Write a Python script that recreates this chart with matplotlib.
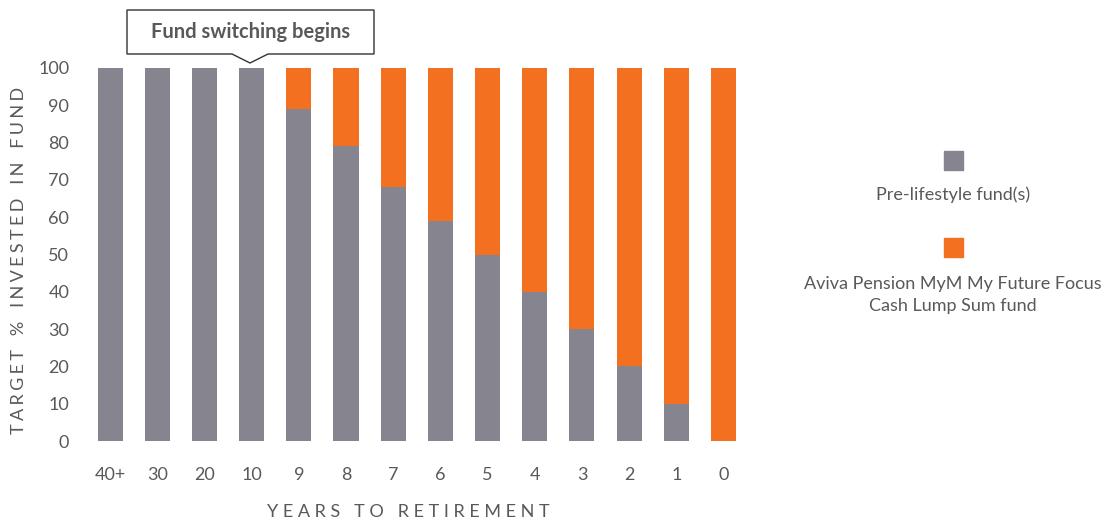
import matplotlib.pyplot as plt
from matplotlib.patches import Polygon, Rectangle

years = ["40+", "30", "20", "10", "9", "8", "7", "6", "5", "4", "3", "2", "1", "0"]
pre_lifestyle = [100, 100, 100, 100, 89, 79, 68, 59, 50, 40, 30, 20, 10, 0]
cash_lump_sum = [100 - v for v in pre_lifestyle]

GREY = "#86848F"
ORANGE = "#F37021"
TEXT = "#595959"

plt.rcParams['font.family'] = ['Lato', 'DejaVu Sans']

W, H = 1113, 524
fig = plt.figure(figsize=(W / 100, H / 100), dpi=100)


def fx(px):
    return px / W


def fy(py):
    return 1 - py / H


ax = fig.add_axes([fx(81.7), fy(441), fx(670.2), fy(68) - fy(441)])
x = range(len(years))
ax.bar(x, pre_lifestyle, width=0.53, color=GREY)
ax.bar(x, cash_lump_sum, width=0.53, bottom=pre_lifestyle, color=ORANGE)
ax.set_xlim(-0.6, 13.6)
ax.set_ylim(0, 100)
ax.set_yticks(range(0, 101, 10))
ax.set_xticks(list(x))
ax.set_xticklabels(years)
for s in ax.spines.values():
    s.set_visible(False)
ax.tick_params(length=0, labelsize=13, colors=TEXT)
ax.tick_params(axis='x', pad=19)
ax.tick_params(axis='y', pad=9)


def spaced(s, gap="\u2009\u200a", wgap="   "):
    return wgap.join(gap.join(w) for w in s.split(" "))


fig.text(fx(408), fy(512), spaced("YEARS TO RETIREMENT", " ", "   "), ha='center', va='center',
         fontsize=13, color=TEXT)
fig.text(fx(19), fy(260), spaced("TARGET % INVESTED IN FUND"), ha='center', va='center',
         rotation=90, fontsize=13, color=TEXT)

# callout box
pts = [(127, 10), (374, 10), (374, 54), (268, 54), (250, 63), (232, 54), (127, 54)]
fig.patches.append(Polygon([(fx(a), fy(b)) for a, b in pts], closed=True,
                           transform=fig.transFigure, facecolor='white',
                           edgecolor='#333333', linewidth=1))
fig.text(fx(250.5), fy(32), "Fund switching begins", ha='center', va='center',
         fontsize=14.5, fontweight='bold', color=TEXT)

# legend
sq = 19
for cy, col in [(160, GREY), (248, ORANGE)]:
    fig.patches.append(Rectangle((fx(953 - sq / 2), fy(cy + sq / 2)), fx(sq), fy(0) - fy(sq),
                                 transform=fig.transFigure, color=col))
fig.text(fx(953), fy(195), "Pre-lifestyle fund(s)", ha='center', va='center',
         fontsize=13, color=TEXT)
fig.text(fx(953), fy(295), "Aviva Pension MyM My Future Focus\nCash Lump Sum fund",
         ha='center', va='center', fontsize=13, color=TEXT, linespacing=1.5)

fig.savefig("out.png", dpi=100)
